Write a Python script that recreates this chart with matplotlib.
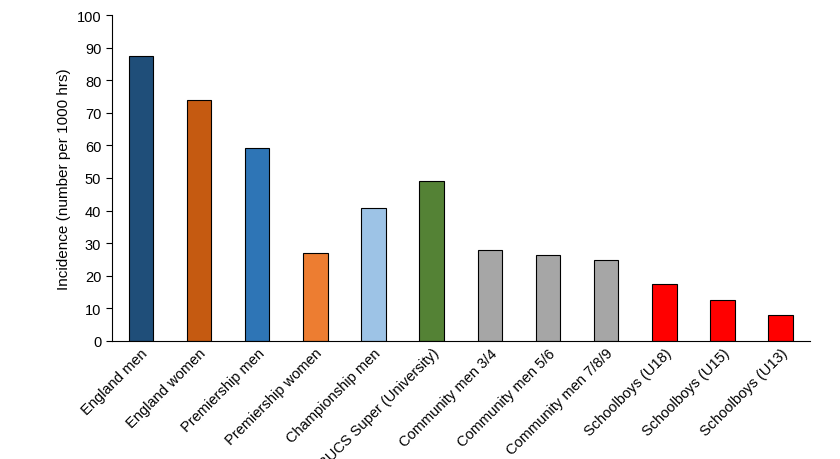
import matplotlib
matplotlib.use("Agg")
import matplotlib.pyplot as plt

categories = ["England men", "England women", "Premiership men", "Premiership women",
              "Championship men", "BUCS Super (University)", "Community men 3/4",
              "Community men 5/6", "Community men 7/8/9", "Schoolboys (U18)",
              "Schoolboys (U15)", "Schoolboys (U13)"]
values = [87.5, 74.0, 59.2, 27.0, 40.8, 49.0, 28.0, 26.3, 24.8, 17.3, 12.6, 7.8]
colors = ["#1F4E79", "#C55A11", "#2E75B6", "#ED7D31", "#9DC3E6", "#548235",
          "#A6A6A6", "#A6A6A6", "#A6A6A6", "#FF0000", "#FF0000", "#FF0000"]
yticks = list(range(0, 101, 10))

plt.rcParams["font.family"] = "Liberation Sans"
fig = plt.figure(figsize=(8.4, 4.6), dpi=100)
ax = fig.add_axes([0.133, 0.257, 0.831, 0.708])
x = range(len(categories))
ax.bar(x, values, width=0.42, color=colors, edgecolor="black", linewidth=0.8)
ax.set_xlim(-0.5, len(categories) - 0.5)
ax.set_ylim(0, 100)
ax.set_yticks(yticks)
ax.set_xticks(list(x))
ax.set_xticklabels(categories, rotation=45, ha="right", rotation_mode="anchor", fontsize=10.5)
ax.tick_params(axis="x", length=0)
ax.tick_params(axis="y", direction="out", length=4, labelsize=10.5)
ax.set_ylabel("Incidence (number per 1000 hrs)", fontsize=11)
for s in ["top", "right"]:
    ax.spines[s].set_visible(False)
fig.savefig("out.png", dpi=100)
